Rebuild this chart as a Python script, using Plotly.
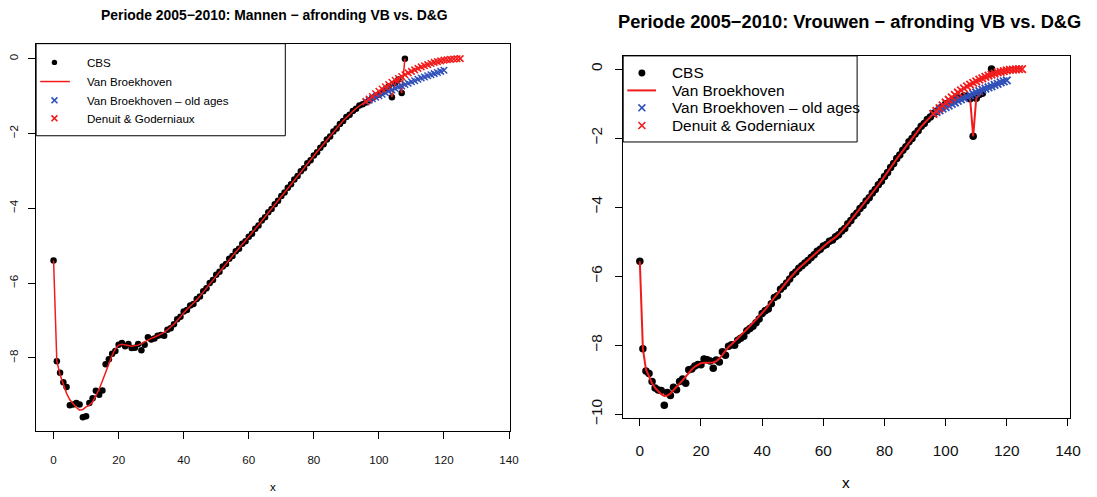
import plotly.graph_objects as go

W, H = 1097, 497
FONT = "Liberation Sans, Arial, Helvetica, sans-serif"
RED = "#F21B1B"
BLUE = "#3050B8"

# ---------------- Mannen (men) ----------------
ages_cbs_m = list(range(0, 109))
cbs_m = [
    -5.40, -8.09, -8.40, -8.65, -8.78, -9.27, -9.25, -9.21, -9.25, -9.59,
    -9.56, -9.21, -9.08, -8.88, -8.99, -8.87, -8.17, -8.04, -7.89, -7.82,
    -7.65, -7.60, -7.69, -7.63, -7.74, -7.73, -7.63, -7.80, -7.65, -7.45,
    -7.51, -7.48, -7.41, -7.39, -7.41, -7.25, -7.21, -7.10, -6.97, -6.90,
    -6.76, -6.72, -6.60, -6.56, -6.43, -6.36, -6.22, -6.14, -6.00, -5.92,
    -5.78, -5.70, -5.56, -5.49, -5.35, -5.28, -5.15, -5.08, -4.95, -4.88,
    -4.76, -4.68, -4.55, -4.46, -4.33, -4.24, -4.11, -4.02, -3.89, -3.80,
    -3.67, -3.58, -3.45, -3.36, -3.23, -3.14, -3.01, -2.93, -2.80, -2.72,
    -2.59, -2.50, -2.38, -2.29, -2.16, -2.08, -1.95, -1.87, -1.75, -1.67,
    -1.56, -1.50, -1.40, -1.34, -1.25, -1.22, -1.17, -1.12, -1.05, -1.00,
    -0.96, -0.90, -0.82, -0.74, -1.03, -0.66, -0.56, -0.92, 0.00,
]
ages_vb_m = list(range(0, 109))
vb_m = [
    -5.40, -8.09, -8.45, -8.72, -8.95, -9.12, -9.24, -9.33, -9.40, -9.38,
    -9.31, -9.27, -9.18, -9.03, -8.84, -8.62, -8.38, -8.14, -7.93, -7.76,
    -7.66, -7.64, -7.65, -7.67, -7.69, -7.68, -7.66, -7.62, -7.57, -7.52,
    -7.48, -7.45, -7.41, -7.37, -7.32, -7.25, -7.18, -7.10, -7.00, -6.89,
    -6.79, -6.70, -6.62, -6.54, -6.45, -6.35, -6.24, -6.13, -6.02, -5.91,
    -5.80, -5.69, -5.58, -5.47, -5.37, -5.27, -5.17, -5.07, -4.97, -4.87,
    -4.77, -4.67, -4.56, -4.45, -4.34, -4.23, -4.12, -4.01, -3.90, -3.79,
    -3.68, -3.57, -3.46, -3.35, -3.24, -3.13, -3.02, -2.92, -2.81, -2.71,
    -2.60, -2.49, -2.39, -2.28, -2.17, -2.07, -1.96, -1.86, -1.76, -1.66,
    -1.57, -1.49, -1.41, -1.33, -1.26, -1.20, -1.15, -1.10, -1.05, -1.00,
    -0.95, -0.90, -0.82, -0.74, -1.03, -0.66, -0.56, -0.92, 0.00,
]
ages_old_m = list(range(96, 121))
old_m = [
    -1.15, -1.11, -1.07, -1.03, -0.99, -0.95, -0.91, -0.87, -0.84, -0.80,
    -0.76, -0.73, -0.69, -0.66, -0.62, -0.59, -0.55, -0.52, -0.49, -0.46,
    -0.43, -0.40, -0.37, -0.34, -0.31,
]
ages_dg_m = list(range(96, 126))
dg_m = [
    -1.15, -1.08, -1.01, -0.94, -0.87, -0.81, -0.75, -0.69, -0.63, -0.58,
    -0.53, -0.48, -0.43, -0.38, -0.34, -0.30, -0.26, -0.22, -0.19, -0.16,
    -0.13, -0.10, -0.08, -0.06, -0.04, -0.03, -0.02, -0.01, -0.003, 0.0,
]

# ---------------- Vrouwen (women) ----------------
ages_cbs_v = list(range(0, 113)) + [115]
cbs_v = [
    -5.57, -8.10, -8.75, -8.82, -9.05, -9.24, -9.30, -9.31, -9.74, -9.37,
    -9.46, -9.22, -9.29, -9.05, -8.98, -9.10, -8.71, -8.69, -8.60, -8.56,
    -8.57, -8.40, -8.42, -8.46, -8.67, -8.43, -8.49, -8.19, -8.29, -8.03,
    -7.99, -8.00, -7.86, -7.80, -7.74, -7.58, -7.52, -7.45, -7.35, -7.24,
    -7.08, -7.00, -6.95, -6.80, -6.62, -6.57, -6.38, -6.30, -6.20, -6.08,
    -5.95, -5.88, -5.77, -5.70, -5.62, -5.55, -5.46, -5.38, -5.28, -5.22,
    -5.13, -5.08, -4.99, -4.95, -4.86, -4.80, -4.69, -4.62, -4.48, -4.39,
    -4.26, -4.17, -4.04, -3.95, -3.82, -3.73, -3.59, -3.49, -3.35, -3.25,
    -3.11, -3.00, -2.85, -2.74, -2.59, -2.49, -2.35, -2.25, -2.11, -2.01,
    -1.88, -1.79, -1.66, -1.58, -1.46, -1.39, -1.29, -1.23, -1.14, -1.09,
    -1.01, -0.98, -0.92, -0.90, -0.84, -0.83, -0.78, -0.80, -0.86, -1.95,
    -0.85, -0.74, -0.70, 0.00,
]
ages_vb_v = list(range(0, 113))
vb_v = [
    -5.57, -8.10, -8.70, -8.93, -9.10, -9.24, -9.34, -9.42, -9.47, -9.46,
    -9.40, -9.31, -9.22, -9.12, -9.02, -8.91, -8.80, -8.70, -8.62, -8.56,
    -8.52, -8.51, -8.51, -8.51, -8.50, -8.46, -8.39, -8.28, -8.15, -8.05,
    -7.97, -7.89, -7.81, -7.72, -7.63, -7.54, -7.45, -7.36, -7.27, -7.18,
    -7.08, -6.97, -6.85, -6.73, -6.61, -6.50, -6.39, -6.28, -6.17, -6.06,
    -5.96, -5.86, -5.77, -5.69, -5.61, -5.53, -5.45, -5.37, -5.29, -5.21,
    -5.14, -5.07, -5.00, -4.94, -4.87, -4.79, -4.70, -4.60, -4.49, -4.38,
    -4.27, -4.16, -4.05, -3.94, -3.83, -3.72, -3.60, -3.48, -3.36, -3.24,
    -3.12, -2.99, -2.86, -2.73, -2.60, -2.48, -2.36, -2.24, -2.12, -2.00,
    -1.89, -1.78, -1.67, -1.57, -1.47, -1.38, -1.30, -1.22, -1.15, -1.08,
    -1.02, -0.97, -0.93, -0.89, -0.85, -0.82, -0.79, -0.80, -0.86, -1.95,
    -0.85, -0.74, -0.70,
]
ages_old_v = list(range(96, 121))
old_v = [
    -1.30, -1.25, -1.20, -1.15, -1.10, -1.06, -1.01, -0.97, -0.92, -0.88,
    -0.84, -0.80, -0.76, -0.72, -0.68, -0.64, -0.60, -0.57, -0.53, -0.50,
    -0.46, -0.43, -0.39, -0.36, -0.33,
]
ages_dg_v = list(range(96, 126))
dg_v = [
    -1.30, -1.21, -1.13, -1.05, -0.97, -0.89, -0.82, -0.75, -0.68, -0.62,
    -0.56, -0.50, -0.45, -0.40, -0.36, -0.31, -0.27, -0.23, -0.19, -0.16,
    -0.13, -0.10, -0.08, -0.06, -0.04, -0.025, -0.015, -0.007, -0.002, 0.0,
]

x_ticks = [0, 20, 40, 60, 80, 100, 120, 140]
legend_labels = ["CBS", "Van Broekhoven", "Van Broekhoven \u2013 old ages", "Denuit & Goderniaux"]
titles = ["Periode 2005\u22122010: Mannen \u2212 afronding VB vs. D&G",
          "Periode 2005\u22122010: Vrouwen \u2212 afronding VB vs. D&G"]


def fx(px):
    return px / W


def fy(py):
    return 1 - py / H


panels = [
    dict(cbs=(ages_cbs_m, cbs_m), vb=(ages_vb_m, vb_m), old=(ages_old_m, old_m), dg=(ages_dg_m, dg_m),
         box=(36.5, 515.5, 44.3, 437.3), xr=[-5.36, 140.4], yr=[-9.96, 0.40], yt=[-8, -6, -4, -2, 0],
         fs=11.6, tfs=13.9, title_x=277, title_y=15, xlab_y=493, dot=6.5, cross=6.5, cw=1.5, lw=1.5,
         xstand=11, ystand=5,
         leg=dict(right=288.2, bottom=137.7, rows=[63.3, 82.7, 101.7, 120.0], sym=55.0,
                  line=(40.6, 70.6), text=85.7, dot=5.5, cross=6)),
    dict(cbs=(ages_cbs_v, cbs_v), vb=(ages_vb_v, vb_v), old=(ages_old_v, old_v), dg=(ages_dg_v, dg_v),
         box=(629.5, 1080.5, 56.7, 424.0), xr=[-5.44, 140.55], yr=[-10.11, 0.38],
         yt=[-10, -8, -6, -4, -2, 0],
         fs=15.4, tfs=18.3, title_x=858, title_y=21.7, xlab_y=489, dot=7.5, cross=7.5, cw=1.8, lw=2,
         xstand=11, ystand=7,
         leg=dict(right=865.8, bottom=144.0, rows=[74.0, 91.7, 109.3, 127.3], sym=648.4,
                  line=(633.6, 662.7), text=676.4, dot=7, cross=7)),
]

fig = go.Figure()
shapes = []
annotations = []

for i, p in enumerate(panels, start=1):
    xa = "x" if i == 1 else f"x{i}"
    ya = "y" if i == 1 else f"y{i}"
    x0, x1, y0, y1 = p["box"]

    fig.add_trace(go.Scatter(x=p["cbs"][0], y=p["cbs"][1], mode="markers", xaxis=xa, yaxis=ya,
                             marker=dict(color="black", size=p["dot"]), showlegend=False))
    fig.add_trace(go.Scatter(x=p["vb"][0], y=p["vb"][1], mode="lines", xaxis=xa, yaxis=ya,
                             line=dict(color=RED, width=p["lw"]), showlegend=False))
    fig.add_trace(go.Scatter(x=p["old"][0], y=p["old"][1], mode="markers", xaxis=xa, yaxis=ya,
                             marker=dict(symbol="x-thin", size=p["cross"],
                                         line=dict(color=BLUE, width=p["cw"])), showlegend=False))
    fig.add_trace(go.Scatter(x=p["dg"][0], y=p["dg"][1], mode="markers", xaxis=xa, yaxis=ya,
                             marker=dict(symbol="x-thin", size=p["cross"],
                                         line=dict(color=RED, width=p["cw"])), showlegend=False))

    axis_common = dict(showgrid=False, zeroline=False, showline=True, mirror=True,
                       linecolor="black", linewidth=1, ticks="outside", ticklen=7,
                       tickcolor="black", tickfont=dict(family=FONT, size=p["fs"], color="#111"))
    fig.update_layout({
        ("xaxis" if i == 1 else f"xaxis{i}"): dict(
            domain=[fx(x0), fx(x1)], range=p["xr"], anchor=ya, tickvals=x_ticks,
            ticklabelstandoff=p["xstand"], **axis_common),
        ("yaxis" if i == 1 else f"yaxis{i}"): dict(
            domain=[fy(y1), fy(y0)], range=p["yr"], anchor=xa, tickvals=p["yt"],
            tickangle=-90, ticklabelstandoff=p["ystand"], **axis_common),
    })

    # title and axis label
    annotations.append(dict(text=f"<b>{titles[i - 1]}</b>", x=fx(p["title_x"]),
                            y=fy(p["title_y"]), xref="paper", yref="paper", showarrow=False,
                            xanchor="center", yanchor="middle",
                            font=dict(family=FONT, size=p["tfs"], color="black")))
    annotations.append(dict(text="x", x=fx((x0 + x1) / 2), y=fy(p["xlab_y"]), xref="paper",
                            yref="paper", showarrow=False, xanchor="center", yanchor="middle",
                            font=dict(family=FONT, size=p["fs"], color="black")))

    # legend box in the top-left corner of the panel
    lg = p["leg"]
    shapes.append(dict(type="rect", xref="paper", yref="paper", x0=fx(x0), x1=fx(lg["right"]),
                       y0=fy(lg["bottom"]), y1=fy(y0), line=dict(color="black", width=1),
                       fillcolor="white", layer="below"))
    r = lg["dot"] / 2
    ry0 = lg["rows"][0]
    shapes.append(dict(type="circle", xref="paper", yref="paper", x0=fx(lg["sym"] - r),
                       x1=fx(lg["sym"] + r), y0=fy(ry0 + r), y1=fy(ry0 - r),
                       fillcolor="black", line=dict(color="black", width=0)))
    ry1 = lg["rows"][1]
    shapes.append(dict(type="line", xref="paper", yref="paper", x0=fx(lg["line"][0]),
                       x1=fx(lg["line"][1]), y0=fy(ry1), y1=fy(ry1),
                       line=dict(color=RED, width=p["lw"])))
    c = lg["cross"] / 2
    for row, col in ((lg["rows"][2], BLUE), (lg["rows"][3], RED)):
        sx = lg["sym"]
        shapes.append(dict(type="path", xref="paper", yref="paper",
                           path=(f"M {fx(sx - c)} {fy(row - c)} L {fx(sx + c)} {fy(row + c)} "
                                 f"M {fx(sx - c)} {fy(row + c)} L {fx(sx + c)} {fy(row - c)}"),
                           line=dict(color=col, width=1.6)))
    for label, row in zip(legend_labels, lg["rows"]):
        annotations.append(dict(text=label, x=fx(lg["text"]), y=fy(row), xref="paper", yref="paper",
                                showarrow=False, xanchor="left", yanchor="middle",
                                font=dict(family=FONT, size=p["fs"], color="black")))

fig.update_layout(width=W, height=H, margin=dict(l=0, r=0, t=0, b=0),
                  paper_bgcolor="white", plot_bgcolor="white", showlegend=False,
                  shapes=shapes, annotations=annotations)

fig.write_html("out.html")
